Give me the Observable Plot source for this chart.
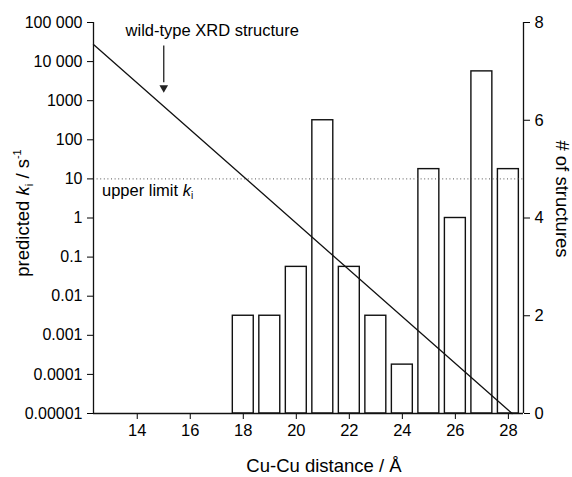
<!DOCTYPE html>
<html><head><meta charset="utf-8">
<script src="https://cdn.jsdelivr.net/npm/d3@7"></script>
<script src="https://cdn.jsdelivr.net/npm/@observablehq/plot@0.6"></script>
<style>
body{margin:0;background:#fff}
#wrap{position:relative;width:572px;height:477px}
#wrap svg{position:absolute;left:0;top:0}
</style></head><body><div id="wrap"></div>
<script>
// ---- data ----
const distances = [18, 19, 20, 21, 22, 23, 24, 25, 26, 27, 28];
const counts = [2, 2, 3, 6, 3, 2, 1, 5, 4, 7, 5];
const lineDistance = [12.35, 28.14];
const lineRate = [27500, 0.00001];
const upperLimit = 10;
const xTicks = [14, 16, 18, 20, 22, 24, 26, 28];
const kTicks = [1e5, 1e4, 1e3, 100, 10, 1, 0.1, 0.01, 0.001, 0.0001, 0.00001];
const kTickLabels = ["100 000", "10 000", "1000", "100", "10", "1", "0.1", "0.01", "0.001", "0.0001", "0.00001"];
const countTicks = [0, 2, 4, 6, 8];
const arrowX = [15];
const arrowTop = [25000];
const arrowTip = [1800];
const xDomain = [12.35, 28.57];

const barData = distances.map((d, i) => ({distance: d, count: counts[i]}));
const lineData = lineDistance.map((d, i) => ({distance: d, rate: lineRate[i]}));

const FONT = "'Liberation Sans', Arial, Helvetica, sans-serif";
const frame = {
  width: 572, height: 477,
  marginLeft: 93, marginRight: 49, marginTop: 22, marginBottom: 64,
  style: {fontFamily: FONT, fontSize: "16.5px", color: "#000", background: "transparent", overflow: "visible"}
};
const barHalf = 0.395;

// base: bars with linear count axis (right)
const base = Plot.plot({
  ...frame,
  x: {domain: xDomain, axis: null},
  y: {domain: [0, 8], axis: null},
  marks: [
    Plot.rectY(barData, {x1: d => d.distance - barHalf, x2: d => d.distance + barHalf, y1: 0, y2: "count",
      fill: "white", stroke: "#111", strokeWidth: 1.4}),
    Plot.axisY({anchor: "right", ticks: countTicks, tickSize: 6, tickPadding: 5, label: null, fontSize: 16.5, tickFormat: d => String(d)}),
    Plot.ruleX([xDomain[1]], {stroke: "#111", strokeWidth: 1.3})
  ]
});

// overlay: log rate scale (left), line, annotations, x axis
const over = Plot.plot({
  ...frame,
  x: {domain: xDomain},
  y: {type: "log", domain: [1e-5, 1e5]},
  marks: [
    Plot.ruleY([upperLimit], {stroke: "#555", strokeDasharray: "1,2.6", strokeWidth: 1}),
    Plot.line(lineData, {x: "distance", y: "rate", stroke: "#111", strokeWidth: 1.3}),
    Plot.ruleX(arrowX, {y1: arrowTop, y2: arrowTip.map(v => v * 1.6), stroke: "#222", strokeWidth: 1.3}),
    Plot.dot(arrowX, {x: d => d, y: arrowTip, symbol: "triangle", r: 3.2, rotate: 180, fill: "#222", stroke: "none", dy: -3}),
    Plot.text(["wild-type XRD structure"], {x: 13.56, y: 60000, text: d => d, textAnchor: "start", fontSize: 16.5}),
    Plot.axisY({anchor: "left", ticks: kTicks, tickSize: 6, tickPadding: 5, label: null, fontSize: 16,
      tickFormat: d => kTickLabels[kTicks.indexOf(d)]}),
    Plot.axisX({ticks: xTicks, tickSize: 6, tickPadding: 5, label: null, fontSize: 16.5}),
    Plot.ruleX([xDomain[0]], {stroke: "#111", strokeWidth: 1.3}),
    Plot.ruleY([1e-5], {stroke: "#111", strokeWidth: 1.3})
  ]
});

const wrap = document.getElementById("wrap");
wrap.appendChild(base);
wrap.appendChild(over);

// rich-text labels
const g = d3.select(over).append("g").attr("font-family", FONT).attr("fill", "#000").attr("text-anchor", "start");
const ys = over.scale("y"), xs = over.scale("x");
const ul = g.append("text").attr("x", xs.apply(12.69)).attr("y", ys.apply(upperLimit) + 18).attr("font-size", 16.5).attr("text-anchor", "start");
ul.append("tspan").text("upper limit ");
ul.append("tspan").attr("font-style", "italic").text("k");
ul.append("tspan").attr("font-size", 10).attr("dy", 3).text("i");

g.append("text").attr("x", 324).attr("y", 472).attr("text-anchor", "middle").attr("font-size", 18.5).text("Cu-Cu distance / Å");

const yl = g.append("text").attr("transform", "translate(29,213) rotate(-90)").attr("text-anchor", "middle").attr("font-size", 18.5);
yl.append("tspan").text("predicted ");
yl.append("tspan").attr("font-style", "italic").text("k");
yl.append("tspan").attr("font-size", 11).attr("dy", 4).text("i");
yl.append("tspan").attr("dy", -4).text(" / s");
yl.append("tspan").attr("font-size", 11).attr("dy", -8).text("-1");

g.append("text").attr("transform", "translate(556,199) rotate(90)").attr("text-anchor", "middle").attr("font-size", 18.5).text("# of structures");
</script></body></html>
